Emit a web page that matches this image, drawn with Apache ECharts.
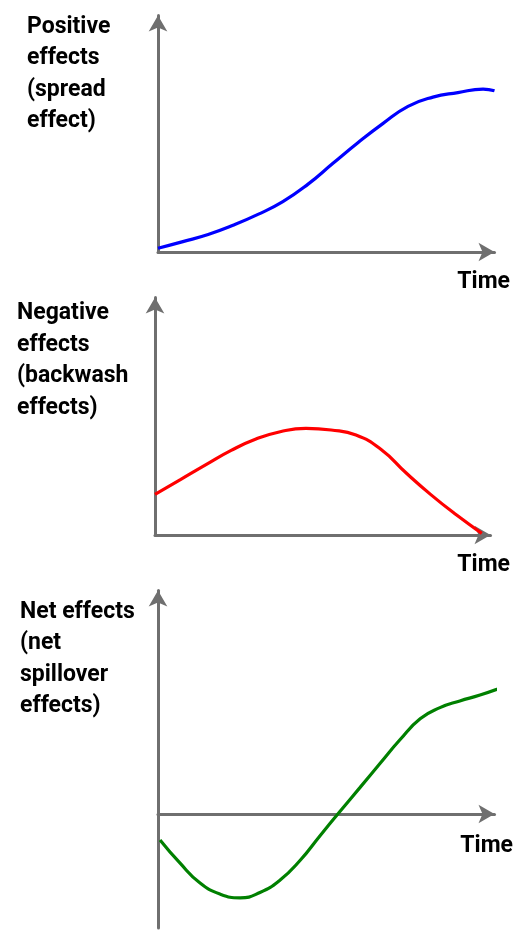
<!DOCTYPE html>
<html>
<head>
<meta charset="utf-8">
<script src="https://cdn.jsdelivr.net/npm/echarts@6/dist/echarts.min.js"></script>
<style>
html,body{margin:0;padding:0;background:#fff;}
#c{width:521px;height:935px;}
</style>
</head>
<body>
<div id="c"></div>
<script>
// Panel titles
const titles = ['Positive\neffects\n(spread\neffect)', 'Negative\neffects\n(backwash\neffects)', 'Net effects\n(net\nspillover\neffects)'];
const xName = 'Time';

// Positive effects (spread effect)
const posTime = [0, 7.4, 14.9, 22.3, 29.7, 37.1, 44.6, 52.0, 59.4, 66.9, 74.3, 81.7, 89.1, 96.6, 100];
const posVal  = [1.6, 4.4, 7.4, 11.3, 15.9, 21.3, 28.7, 37.5, 46.2, 54.4, 61.6, 65.5, 67.4, 68.9, 68.2];

// Negative effects (backwash effects)
const negTime = [0, 7.7, 15.2, 22.7, 30.1, 37.6, 45.0, 52.5, 59.9, 67.4, 74.8, 82.3, 89.7, 97.4];
const negVal  = [17.1, 23.4, 29.6, 35.6, 40.4, 43.6, 44.9, 44.2, 42.1, 36.0, 26.2, 16.9, 8.6, 0.7];

// Net effects (net spillover effects)
const netTime = [0.6, 6.5, 12.5, 18.4, 24.4, 30.3, 36.3, 42.2, 48.1, 54.0, 60.0, 65.9, 71.9, 77.9, 83.8, 89.7, 95.7, 104.1];
const netVal  = [-11.6, -21.9, -30.9, -35.8, -37.5, -35.1, -29.5, -20.8, -9.8, 1.0, 11.8, 22.5, 33.2, 42.6, 47.6, 50.6, 53.2, 57.7];

const pair = (xs, ys) => xs.map((x, i) => [x, ys[i]]);

const axisGray = '#6f6f6f';
const font = 'Roboto';

function axisLine(){
  return {show:true, onZero:true, symbol:['none','arrow'], symbolSize:[14,16],
          lineStyle:{color:axisGray, width:3}};
}
function xAx(idx, max){
  return {type:'value', gridIndex:idx, min:0, max:max, axisLine:axisLine(),
          axisTick:{show:false}, axisLabel:{show:false}, splitLine:{show:false}};
}
function yAx(idx, min, max){
  return {type:'value', gridIndex:idx, min:min, max:max, axisLine:axisLine(),
          axisTick:{show:false}, axisLabel:{show:false}, splitLine:{show:false}};
}
const tStyle = {fontFamily:font, fontWeight:'bold', fontSize:23, lineHeight:31.5, color:'#000'};

const chart = echarts.init(document.getElementById('c'), null, {renderer:'canvas'});
chart.setOption({
  animation:false,
  backgroundColor:'#fff',
  title:[
    {text:titles[0], left:27, top:11, padding:0, textStyle:tStyle},
    {text:titles[1], left:17, top:297.5, padding:0, textStyle:tStyle},
    {text:titles[2], left:20, top:596, padding:0, textStyle:tStyle},
    {text:xName, right:11, top:266.75, padding:0, textStyle:tStyle},
    {text:xName, right:11, top:549.25, padding:0, textStyle:tStyle},
    {text:xName, right:8, top:830.25, padding:0, textStyle:tStyle}
  ],
  grid:[
    {left:158, top:15.5, width:336.5, height:236.5},
    {left:155, top:297.5, width:335.5, height:237.5},
    {left:158, top:590.5, width:336.5, height:337.5}
  ],
  xAxis:[xAx(0,100), xAx(1,100), xAx(2,100)],
  yAxis:[yAx(0,0,100), yAx(1,0,100), yAx(2,-51,100)],
  series:[
    {type:'line', xAxisIndex:0, yAxisIndex:0, data:pair(posTime,posVal), smooth:0.5, symbol:'none', clip:false,
     lineStyle:{color:'#0000ff', width:3.2}, z:3},
    {type:'line', xAxisIndex:1, yAxisIndex:1, data:pair(negTime,negVal), smooth:0.5, symbol:'none', clip:false,
     lineStyle:{color:'#ff0000', width:3.2}, z:3},
    {type:'line', xAxisIndex:2, yAxisIndex:2, data:pair(netTime,netVal), smooth:0.5, symbol:'none', clip:false,
     lineStyle:{color:'#008000', width:3.2}, z:3}
  ]
});
</script>
</body>
</html>
